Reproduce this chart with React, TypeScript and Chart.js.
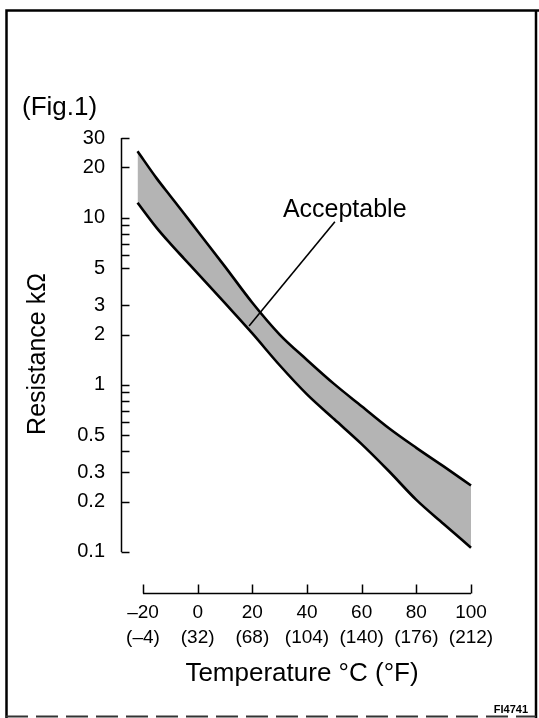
import { useEffect, useRef } from "react";
import { Chart, registerables } from "chart.js";

Chart.register(...registerables);

// ---- data ----
const TEMPS_C = [-22, -15, -10, -5, 0, 10, 20, 30, 40, 50, 60, 70, 80, 90, 100];
const UPPER_KOHM = [25.0, 17.2, 13.5, 10.6, 8.3, 5.1, 3.1, 2.0, 1.41, 1.01, 0.745, 0.55, 0.42, 0.325, 0.25];
const LOWER_KOHM = [12.3, 8.7, 7.0, 5.7, 4.65, 3.08, 2.03, 1.31, 0.877, 0.622, 0.442, 0.304, 0.205, 0.147, 0.106];

// leader line for the "Acceptable" callout (temp °C, kΩ)
const LEADER_T = [18.8, 50.2];
const LEADER_R = [2.25, 9.47];

// axis ticks / labels
const X_TICKS = [-20, 0, 20, 40, 60, 80, 100];
const X_LABELS_C = ["\u201320", "0", "20", "40", "60", "80", "100"];
const X_LABELS_F = ["(\u20134)", "(32)", "(68)", "(104)", "(140)", "(176)", "(212)"];
const Y_LABEL_TICKS = [30, 20, 10, 5, 3, 2, 1, 0.5, 0.3, 0.2, 0.1];
const Y_MARK_TICKS = [30, 20, 10, 9, 8, 7, 6, 5, 3, 2, 1, 0.9, 0.8, 0.7, 0.6, 0.5, 0.4, 0.3, 0.2, 0.1];

// axis ranges
const X_MIN = -28.05;
const X_MAX = 104.39;
const Y_MIN = 0.078;
const Y_MAX = 30;

const FONT = "'Liberation Sans', Arial, Helvetica, sans-serif";

export default function App() {
  const ref = useRef<HTMLCanvasElement | null>(null);

  useEffect(() => {
    const canvas = ref.current;
    if (!canvas) return;

    Chart.defaults.font.family = FONT;
    Chart.defaults.color = "#000";

    const decor = {
      id: "decor",
      beforeDraw(chart: any) {
        const { ctx, width, height } = chart;
        ctx.save();
        ctx.fillStyle = "#fff";
        ctx.fillRect(0, 0, width, height);
        ctx.strokeStyle = "#000";
        // frame
        ctx.lineWidth = 2.5;
        ctx.beginPath();
        ctx.moveTo(6.5, height);
        ctx.lineTo(6.5, 10.5);
        ctx.lineTo(width, 10.5);
        ctx.stroke();
        ctx.beginPath();
        ctx.moveTo(536, 10.5);
        ctx.lineTo(536, height);
        ctx.stroke();
        ctx.lineWidth = 2;
        ctx.strokeStyle = "#333";
        ctx.setLineDash([22, 8]);
        ctx.beginPath();
        ctx.moveTo(6, 716.5);
        ctx.lineTo(536, 716.5);
        ctx.stroke();
        ctx.restore();
      },
      afterDraw(chart: any) {
        const { ctx, chartArea } = chart;
        const xs = chart.scales.x;
        const ys = chart.scales.y;
        ctx.save();
        ctx.strokeStyle = "#000";
        ctx.lineWidth = 1.5;
        // y axis with inward ticks
        const ax = Math.round(chartArea.left) + 0.5;
        const yTop = ys.getPixelForValue(Y_MARK_TICKS[0]);
        const yBot = ys.getPixelForValue(Y_MARK_TICKS[Y_MARK_TICKS.length - 1]);
        ctx.beginPath();
        ctx.moveTo(ax, yTop);
        ctx.lineTo(ax, yBot);
        for (const v of Y_MARK_TICKS) {
          const p = Math.round(ys.getPixelForValue(v)) + 0.5;
          ctx.moveTo(ax, p);
          ctx.lineTo(ax + 8, p);
        }
        ctx.stroke();
        // x axis (offset below the plot) with upward ticks
        const xy = Math.round(yBot + 41) + 0.5;
        const x0 = xs.getPixelForValue(X_TICKS[0]);
        const x1 = xs.getPixelForValue(X_TICKS[X_TICKS.length - 1]);
        ctx.beginPath();
        ctx.moveTo(x0, xy);
        ctx.lineTo(x1, xy);
        for (const v of X_TICKS) {
          const p = Math.round(xs.getPixelForValue(v)) + 0.5;
          ctx.moveTo(p, xy);
          ctx.lineTo(p, xy - 9);
        }
        ctx.stroke();

        // texts
        ctx.fillStyle = "#000";
        ctx.textBaseline = "middle";
        ctx.textAlign = "left";
        ctx.font = `26px ${FONT}`;
        ctx.fillText("(Fig.1)", 22, 108);

        const lx = xs.getPixelForValue(LEADER_T[1]);
        const ly = ys.getPixelForValue(LEADER_R[1]);
        ctx.textBaseline = "alphabetic";
        ctx.font = `25px ${FONT}`;
        ctx.fillText("Acceptable", lx - 52, ly - 5);

        ctx.textAlign = "right";
        ctx.font = `bold 11px ${FONT}`;
        ctx.fillText("FI4741", 528, 713);
        ctx.restore();
      },
    };

    const chart = new Chart(canvas, {
      type: "line",
      data: {
        datasets: [
          {
            label: "upper",
            data: TEMPS_C.map((t, i) => ({ x: t, y: UPPER_KOHM[i] })),
            borderColor: "#000",
            borderWidth: 2.6,
            pointRadius: 0,
            fill: "+1",
            backgroundColor: "#b4b4b4",
            cubicInterpolationMode: "monotone",
          },
          {
            label: "lower",
            data: TEMPS_C.map((t, i) => ({ x: t, y: LOWER_KOHM[i] })),
            borderColor: "#000",
            borderWidth: 2.6,
            pointRadius: 0,
            fill: false,
            cubicInterpolationMode: "monotone",
          },
          {
            label: "leader",
            data: LEADER_T.map((t, i) => ({ x: t, y: LEADER_R[i] })),
            borderColor: "#000",
            borderWidth: 1.6,
            pointRadius: 0,
            fill: false,
            tension: 0,
          },
        ],
      },
      options: {
        responsive: false,
        animation: false,
        events: [],
        layout: { padding: { left: 0, top: 138, right: 56, bottom: 0 } },
        plugins: {
          legend: { display: false },
          tooltip: { enabled: false },
          title: { display: false },
          filler: { drawTime: "beforeDatasetsDraw" },
        },
        scales: {
          x: {
            type: "linear",
            min: X_MIN,
            max: X_MAX,
            grid: { display: false, drawTicks: false },
            border: { display: false },
            afterBuildTicks: (s: any) => {
              s.ticks = X_TICKS.map((v) => ({ value: v }));
            },
            afterFit: (s: any) => {
              s.height = 148;
            },
            ticks: {
              autoSkip: false,
              maxRotation: 0,
              minRotation: 0,
              padding: 30,
              color: "#000",
              font: { size: 19, lineHeight: 1.32 },
              callback: (v: any) => {
                const i = X_TICKS.indexOf(Number(v));
                return i >= 0 ? [X_LABELS_C[i], X_LABELS_F[i]] : "";
              },
            },
            title: {
              display: true,
              text: "Temperature \u00B0C (\u00B0F)",
              color: "#000",
              font: { size: 26 },
              padding: { top: 0, bottom: 28.4 },
            },
          },
          y: {
            type: "logarithmic",
            min: Y_MIN,
            max: Y_MAX,
            grid: { display: false, drawTicks: false },
            border: { display: false },
            afterBuildTicks: (s: any) => {
              s.ticks = Y_LABEL_TICKS.map((v) => ({ value: v }));
            },
            afterFit: (s: any) => {
              s.width = 121;
            },
            ticks: {
              autoSkip: false,
              padding: 16,
              color: "#000",
              font: { size: 20 },
              callback: (v: any) => String(v),
            },
            title: {
              display: true,
              text: "Resistance k\u03A9",
              color: "#000",
              font: { size: 25 },
              padding: { top: 23, bottom: 0 },
            },
          },
        },
      } as any,
      plugins: [decor],
    });

    return () => chart.destroy();
  }, []);

  return (
    <div style={{ position: "absolute", left: 0, top: 0, width: 539, height: 718 }}>
      <canvas ref={ref} width={539} height={718} style={{ display: "block" }} />
    </div>
  );
}
